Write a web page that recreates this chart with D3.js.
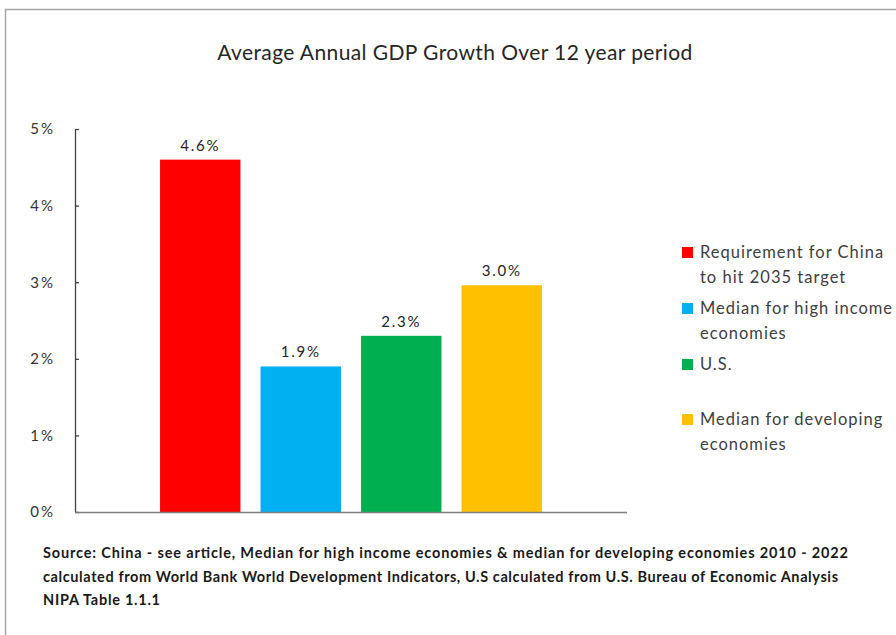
<!DOCTYPE html>
<html>
<head>
<meta charset="utf-8">
<script src="https://cdn.jsdelivr.net/npm/d3@7"></script>
<style>
  html, body { margin: 0; padding: 0; background: #fff; }
  svg { display: block; }
</style>
</head>
<body>
<svg id="chart" width="896" height="635"></svg>
<script>
// chart data
const categories = [
  'Requirement for China to hit 2035 target',
  'Median for high income economies',
  'U.S.',
  'Median for developing economies'
];
const growth = [4.6, 1.9, 2.3, 2.96];
const barColors = ['#ff0000', '#00b0f0', '#00b050', '#ffc000'];
const yTicks = [0, 1, 2, 3, 4, 5];
const legendLines = [
  ['Requirement for China', 'to hit 2035 target'],
  ['Median for high income', 'economies'],
  ['U.S.'],
  ['Median for developing', 'economies']
];
const sourceLines = [
  'Source: China - see article, Median for high income economies & median for developing economies 2010 - 2022',
  'calculated from World Bank World Development Indicators, U.S calculated from U.S. Bureau of Economic Analysis',
  'NIPA Table 1.1.1'
];
const sourceWidths = [805, 795, 117];

const svg = d3.select('#chart');
const font = 'Lato, "Open Sans", sans-serif';

// outer frame (runs off the right and bottom edge)
svg.append('rect')
  .attr('x', 5.5).attr('y', 9.5)
  .attr('width', 1000).attr('height', 1000)
  .attr('fill', 'none')
  .attr('stroke', '#a6a6a6')
  .attr('stroke-width', 1.5);

// title
svg.append('text')
  .attr('x', 455).attr('y', 60)
  .attr('text-anchor', 'middle')
  .attr('font-family', font)
  .attr('font-size', 21)
  .attr('letter-spacing', 0.4)
  .attr('fill', '#262626')
  .text('Average Annual GDP Growth Over 12 year period');

// scales
const x = d3.scaleBand()
  .domain(categories)
  .range([150, 552])
  .paddingInner(0.2)
  .paddingOuter(0.1);

const y = d3.scaleLinear()
  .domain([0, 5])
  .range([512, 129]);

// y axis
const yAxis = svg.append('g')
  .attr('transform', 'translate(75,0)')
  .call(d3.axisLeft(y)
    .tickValues(yTicks)
    .tickFormat(d => d + '%')
    .tickSizeInner(-4)
    .tickSizeOuter(0)
    .tickPadding(20));
yAxis.select('.domain').attr('stroke', '#404040').attr('stroke-width', 1.3);
yAxis.selectAll('.tick line').attr('stroke', '#404040').attr('stroke-width', 1.3);
yAxis.selectAll('.tick text')
  .attr('font-family', font)
  .attr('font-size', 15)
  .attr('letter-spacing', 2)
  .attr('fill', '#333');

// bars
svg.append('g')
  .selectAll('rect')
  .data(categories)
  .enter().append('rect')
    .attr('x', d => x(d))
    .attr('y', (d, i) => y(growth[i]))
    .attr('width', x.bandwidth())
    .attr('height', (d, i) => y(0) - y(growth[i]))
    .attr('fill', (d, i) => barColors[i]);

// x axis baseline
svg.append('line')
  .attr('x1', 75).attr('x2', 627)
  .attr('y1', y(0) + 0.5).attr('y2', y(0) + 0.5)
  .attr('stroke', '#7f7f7f')
  .attr('stroke-width', 1.5);

// value labels
svg.append('g')
  .selectAll('text')
  .data(categories)
  .enter().append('text')
    .attr('x', d => x(d) + x.bandwidth() / 2)
    .attr('y', (d, i) => y(growth[i]) - 9)
    .attr('text-anchor', 'middle')
    .attr('font-family', font)
    .attr('font-size', 15)
    .attr('letter-spacing', 1.8)
    .attr('fill', '#262626')
    .text((d, i) => d3.format('.1f')(growth[i]) + '%');

// legend
const legendY = [247, 303, 359, 414];
const legend = svg.append('g')
  .selectAll('g')
  .data(legendLines)
  .enter().append('g')
    .attr('transform', (d, i) => `translate(682,${legendY[i]})`);

legend.append('rect')
  .attr('width', 11).attr('height', 11)
  .attr('fill', (d, i) => barColors[i]);

legend.append('text')
  .attr('font-family', font)
  .attr('font-size', 16.5)
  .attr('letter-spacing', 1)
  .attr('fill', '#404040')
  .selectAll('tspan')
  .data(d => d)
  .enter().append('tspan')
    .attr('x', 18)
    .attr('y', (d, i) => 11 + i * 24.5)
    .text(d => d);

// source note
svg.append('g')
  .selectAll('text')
  .data(sourceLines)
  .enter().append('text')
    .attr('x', 43)
    .attr('y', (d, i) => 558 + i * 23.5)
    .attr('font-family', font)
    .attr('font-size', 14.5)
    .attr('font-weight', 'bold')
    .attr('fill', '#1a1a1a')
    .attr('textLength', (d, i) => sourceWidths[i])
    .attr('lengthAdjust', 'spacing')
    .text(d => d);
</script>
</body>
</html>
